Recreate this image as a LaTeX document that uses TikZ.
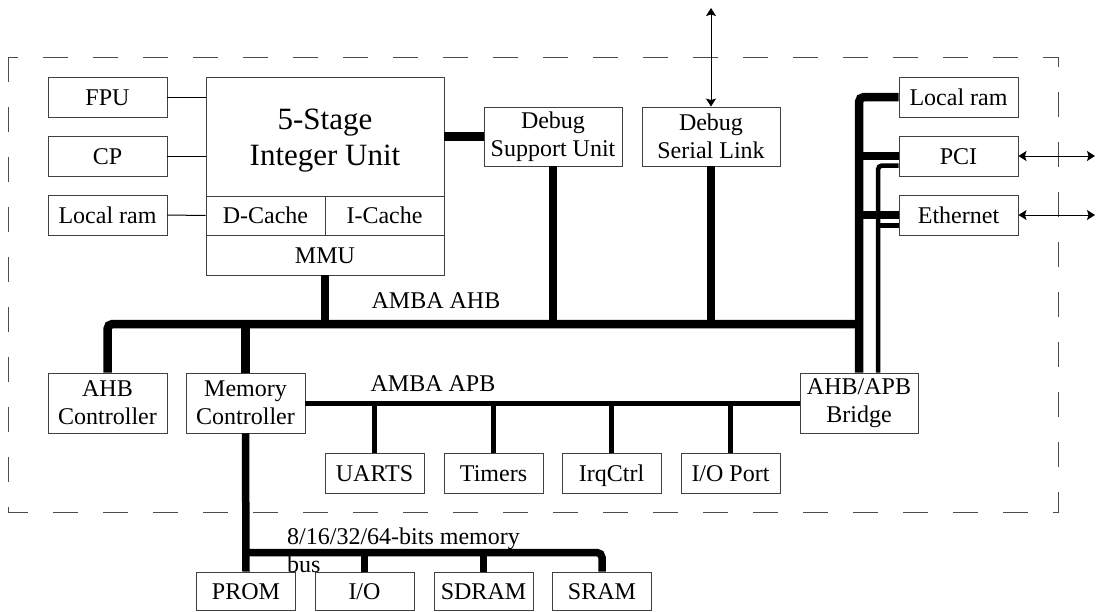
\documentclass[tikz,border=0pt]{standalone}
\usepackage{fontspec}
\setmainfont{Liberation Serif}
\usetikzlibrary{arrows.meta,calc}
\begin{document}
\begin{tikzpicture}[x=1pt,y=-1pt,
  box/.style={draw=black!75,line width=0.9pt,rectangle,inner sep=0pt,align=center,
    font=\fontsize{24}{27.7}\selectfont},
  one/.style={box,text height=16pt,text depth=0pt},
  bus/.style={line width=8.5pt,black},
  apb/.style={line width=5pt,black},
  thinbus/.style={line width=4.5pt,black},
  membus/.style={line width=7.5pt,black},
  link/.style={line width=1pt,black},
  io arrow/.style={line width=1pt,black,{Stealth[length=8pt,width=10pt,inset=1.5pt]}-{Stealth[length=8pt,width=10pt,inset=1.5pt]}},
  frame/.style={line width=1pt,black!70,dash pattern=on 25pt off 25pt},
  lbl/.style={font=\fontsize{24}{27.7}\selectfont,inner sep=0pt}]
\useasboundingbox (0,0) rectangle (1096,611);

% frame
\draw[frame] (8,57) -- (8,512) -- (1058,512) -- (1058,57) -- cycle;

% left CPU part
\node[one,minimum width=119pt,minimum height=40pt] (fpu) at (107.5,97) {FPU};
\node[one,minimum width=119pt,minimum height=40pt] (cp) at (107.5,156) {CP};
\node[one,minimum width=119pt,minimum height=40pt] (lram1) at (107.5,215) {Local ram};
\node[box,minimum width=238pt,minimum height=119pt] (iu) at (325,136.5) {};
\node[inner sep=0pt,align=center,font=\fontsize{31}{36}\selectfont] (iutext) at (325,141) {5-Stage\\Integer Unit};
\node[one,minimum width=119pt,minimum height=39pt] (dc) at (265.5,215.5) {D-Cache};
\node[one,minimum width=119pt,minimum height=39pt] (ic) at (384.5,215.5) {I-Cache};
\node[one,minimum width=238pt,minimum height=40pt] (mmu) at (325,255) {MMU};

\node[box,minimum width=138pt,minimum height=59pt] (dsu) at (553,136.5) {Debug\\Support Unit};
\node[box,minimum width=138pt,minimum height=59pt] (dsl) at (711,136.5) {Debug\\Serial Link};

\node[one,minimum width=119pt,minimum height=40pt] (lram2) at (958.5,97) {Local ram};
\node[one,minimum width=119pt,minimum height=40pt] (pci) at (958.5,156) {PCI};
\node[one,minimum width=119pt,minimum height=40pt] (eth) at (958.5,215) {Ethernet};

\node[box,minimum width=119pt,minimum height=60pt] (ahbc) at (107.5,403) {AHB\\Controller};
\node[box,minimum width=119pt,minimum height=60pt] (memc) at (245.5,403) {Memory\\Controller};
\node[box,minimum width=118pt,minimum height=60pt] (bridge) at (859,403) {AHB/APB\\Bridge};

\node[one,minimum width=99pt,minimum height=40pt] (uarts) at (374.5,473) {UARTS};
\node[one,minimum width=99pt,minimum height=40pt] (timers) at (493.5,473) {Timers};
\node[one,minimum width=99pt,minimum height=40pt] (irq) at (611.5,473) {IrqCtrl};
\node[one,minimum width=99pt,minimum height=40pt] (iop) at (730.5,473) {I/O Port};

\node[one,minimum width=99pt,minimum height=38pt] (prom) at (246,591) {PROM};
\node[one,minimum width=99pt,minimum height=38pt] (io) at (364.5,591) {I/O};
\node[one,minimum width=99pt,minimum height=38pt] (sdram) at (483.5,591) {SDRAM};
\node[one,minimum width=99pt,minimum height=38pt] (sram) at (602,591) {SRAM};

% labels
\node[lbl] (ahblbl) at (436,301) {AMBA AHB};
\node[lbl] (apblbl) at (433,384) {AMBA APB};

% thin links
\draw[link] (fpu.east) -- (fpu.east -| iu.west);
\draw[link] (cp.east) -- (cp.east -| iu.west);
\draw[link] (lram1.east) -- (dc.west);

% coordinates
\coordinate (ahbR) at (859,324);
\coordinate (ext) at (711,8);
\coordinate (pciR) at (1095,156);
\coordinate (ethR) at (1095,215);
\coordinate (bT) at ($(bridge.north)+(19,0)$);
\coordinate (pciT) at ($(pci.west)+(0,9.5)$);
\coordinate (ethT) at ($(eth.west)+(0,10.5)$);
\coordinate (mbL) at (245.5,552.5);

% AHB bus
\draw[bus] (iu.east |- dsu.west) -- (dsu.west);
\draw[bus,rounded corners=5pt] (ahbc.north) |- (ahbR);
\draw[bus,rounded corners=5pt] (bridge.north) |- (lram2.west);
\draw[bus] (bridge.north |- pci.west) -- (pci.west);
\draw[bus] (bridge.north |- eth.west) -- (eth.west);
\draw[bus] (mmu.south) -- (mmu.south |- ahbR);
\draw[bus] (dsu.south) -- (dsu.south |- ahbR);
\draw[bus] (dsl.south) -- (dsl.south |- ahbR);
\draw[bus] (memc.north) -- (memc.north |- ahbR);

% second (thin) bus to PCI / Ethernet
\draw[thinbus,rounded corners=4pt] (bT) |- (pciT);
\draw[thinbus] (bT |- ethT) -- (ethT);

% APB
\draw[apb] (memc.east) -- (bridge.west);
\draw[apb] (uarts.north) -- (uarts.north |- memc.east);
\draw[apb] (timers.north) -- (timers.north |- memc.east);
\draw[apb] (irq.north) -- (irq.north |- memc.east);
\draw[apb] (iop.north) -- (iop.north |- memc.east);

% memory bus
\draw[membus] (memc.south) -- (prom.north);
\draw[membus,rounded corners=5pt] (mbL) -| (sram.north);
\draw[membus] (io.north |- mbL) -- (io.north);
\draw[membus] (sdram.north |- mbL) -- (sdram.north);

\node[lbl,anchor=base west,align=left] (memlbl) at (287,572) {8/16/32/64-bits memory\\bus};

% external arrows
\draw[io arrow] (ext) -- (dsl.north);
\draw[io arrow] (pci.east) -- (pciR);
\draw[io arrow] (eth.east) -- (ethR);
\end{tikzpicture}
\end{document}
